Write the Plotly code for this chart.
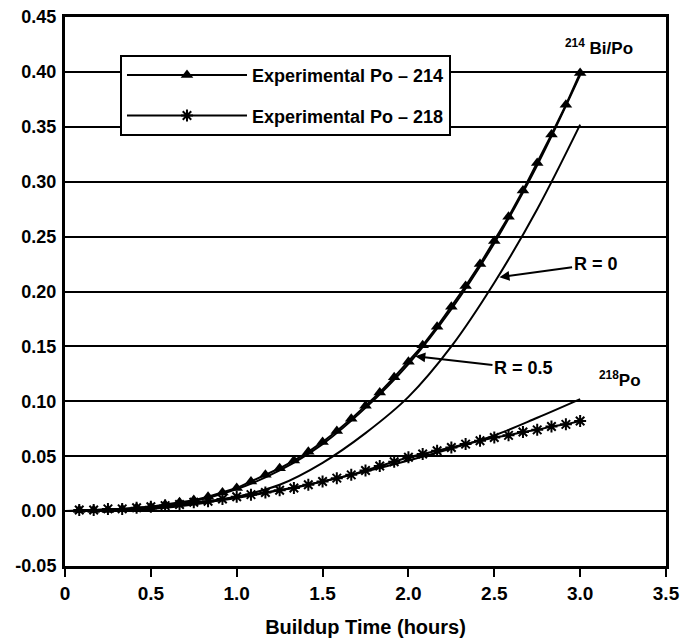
import plotly.graph_objects as go

# ---- data ----
time_h = [0.083, 0.167, 0.250, 0.333, 0.417, 0.500, 0.583, 0.667, 0.750, 0.833,
          0.917, 1.000, 1.083, 1.167, 1.250, 1.333, 1.417, 1.500, 1.583, 1.667,
          1.750, 1.833, 1.917, 2.000, 2.083, 2.167, 2.250, 2.333, 2.417, 2.500,
          2.583, 2.667, 2.750, 2.833, 2.917, 3.000]
po214_exp = [0.001, 0.001, 0.001, 0.002, 0.003, 0.004, 0.006, 0.008, 0.010, 0.013,
             0.017, 0.021, 0.027, 0.033, 0.039, 0.046, 0.054, 0.063, 0.073, 0.084,
             0.096, 0.108, 0.122, 0.136, 0.151, 0.168, 0.186, 0.205, 0.225, 0.246,
             0.268, 0.292, 0.317, 0.343, 0.370, 0.399]
po218_exp = [0.001, 0.001, 0.002, 0.002, 0.003, 0.004, 0.005, 0.006, 0.008, 0.009,
             0.011, 0.013, 0.015, 0.017, 0.019, 0.021, 0.024, 0.027, 0.030, 0.033,
             0.037, 0.041, 0.045, 0.049, 0.052, 0.055, 0.058, 0.061, 0.064, 0.067,
             0.069, 0.072, 0.074, 0.077, 0.079, 0.082]

model_t = [0.0, 0.25, 0.5, 0.75, 1.0, 1.25, 1.5, 1.75, 2.0, 2.25, 2.5, 2.75, 3.0]
model_r0 = [0.000, 0.0005, 0.002, 0.006, 0.013, 0.024, 0.044, 0.071, 0.104, 0.150, 0.208, 0.275, 0.352]
model_r05 = [0.000, 0.001, 0.003, 0.009, 0.020, 0.037, 0.061, 0.094, 0.134, 0.184, 0.244, 0.315, 0.397]
model_po218 = [0.000, 0.001, 0.003, 0.007, 0.012, 0.019, 0.027, 0.036, 0.046, 0.057, 0.069, 0.085, 0.102]

x_ticks = [0, 0.5, 1.0, 1.5, 2.0, 2.5, 3.0, 3.5]
x_tick_text = ["0", "0.5", "1.0", "1.5", "2.0", "2.5", "3.0", "3.5"]
y_ticks = [-0.05, 0.0, 0.05, 0.10, 0.15, 0.20, 0.25, 0.30, 0.35, 0.40, 0.45]
y_tick_text = ["-0.05", "0.00", "0.05", "0.10", "0.15", "0.20", "0.25", "0.30", "0.35", "0.40", "0.45"]

FONT = "Arial, Liberation Sans, sans-serif"

fig = go.Figure()

# model curves
for ys in (model_r0, model_r05, model_po218):
    fig.add_trace(go.Scatter(x=model_t, y=ys, mode="lines",
                             line=dict(color="black", width=2, shape="spline", smoothing=1.0),
                             showlegend=False, hoverinfo="skip"))

fig.add_trace(go.Scatter(
    x=time_h, y=po214_exp, mode="lines+markers", name="Experimental Po \u2013 214",
    legendgroup="a",
    line=dict(color="black", width=2),
    marker=dict(symbol="triangle-up", size=11, color="black")))
fig.add_trace(go.Scatter(
    x=time_h, y=po218_exp, mode="lines+markers", name="Experimental Po \u2013 218",
    legendgroup="b",
    line=dict(color="black", width=2),
    marker=dict(symbol="asterisk-open", size=10, color="black", line=dict(color="black", width=2))))

ann_font = dict(family=FONT, size=18, color="black", weight="bold")
fig.add_annotation(x=3.11, y=0.423, text="<sup>214</sup> Bi/Po", showarrow=False,
                   font=dict(family=FONT, size=17, color="black", weight="bold"))
fig.add_annotation(x=3.23, y=0.120, text="<sup>218</sup>Po", showarrow=False,
                   font=dict(family=FONT, size=17, color="black", weight="bold"))
fig.add_annotation(x=2.53, y=0.213, ax=3.09, ay=0.225, axref="x", ayref="y",
                   text="R = 0", showarrow=True, arrowhead=2, arrowsize=1, arrowwidth=2,
                   arrowcolor="black", font=ann_font)
fig.add_annotation(x=2.04, y=0.141, ax=2.67, ay=0.130, axref="x", ayref="y",
                   text="R = 0.5", showarrow=True, arrowhead=2, arrowsize=1, arrowwidth=2,
                   arrowcolor="black", font=ann_font)

# page body has an 8px margin, so the figure is 8px smaller than the window on each axis
fig.update_layout(
    width=684, height=634,
    margin=dict(l=57, r=26, t=9, b=76),
    paper_bgcolor="white", plot_bgcolor="white",
    font=dict(family=FONT, color="black"),
    legend=dict(x=0.0915, y=0.931, xanchor="left", yanchor="top",
                bgcolor="white", bordercolor="black", borderwidth=2,
                font=dict(family=FONT, size=18, color="black", weight="bold"),
                itemwidth=120, tracegroupgap=14, traceorder="grouped"),
)
fig.update_xaxes(
    range=[0, 3.5], tickvals=x_ticks, ticktext=x_tick_text,
    showgrid=False, zeroline=False, automargin=False,
    showline=True, linecolor="black", linewidth=3, mirror=True,
    ticks="outside", ticklen=8, tickwidth=2, tickcolor="black",
    tickfont=dict(family=FONT, size=19, color="black", weight="bold"),
    title=dict(text="Buildup Time (hours)", font=dict(family=FONT, size=20, color="black", weight="bold"),
               standoff=18),
)
fig.update_yaxes(
    range=[-0.05, 0.45], tickvals=y_ticks, ticktext=y_tick_text,
    showgrid=True, gridcolor="black", gridwidth=2, zeroline=False, automargin=False,
    showline=True, linecolor="black", linewidth=3, mirror=True,
    ticks="", ticklabelstandoff=2, ticklabeloverflow="allow",
    tickfont=dict(family=FONT, size=18, color="black", weight="bold"),
)

fig.write_html("out.html")
